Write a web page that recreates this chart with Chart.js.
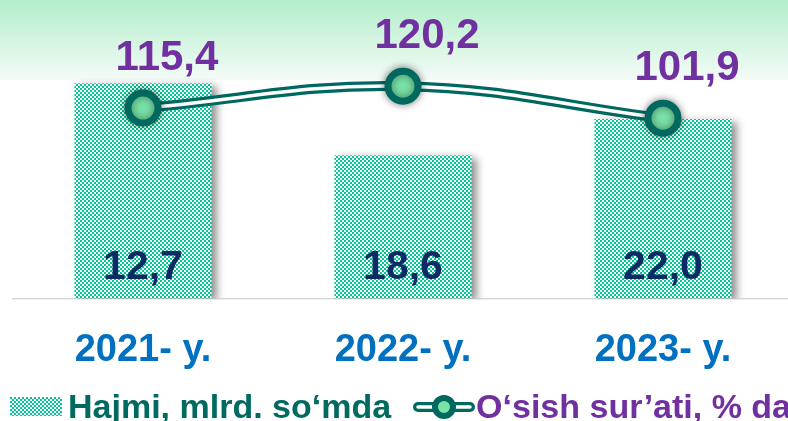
<!DOCTYPE html>
<html>
<head>
<meta charset="utf-8">
<script src="https://cdn.jsdelivr.net/npm/chart.js@4"></script>
<style>
  html, body { margin: 0; padding: 0; background: #fff; }
  body { width: 788px; height: 421px; overflow: hidden; position: relative; }
  #wrap { position: absolute; left: 0; top: 0; width: 793px; height: 421px; }
  #legend {
    position: absolute; left: 10px; top: 387px; white-space: nowrap;
    font: bold 34px "Liberation Sans", Arial, sans-serif; display: flex; align-items: center;
  }
  #legend canvas { display: inline-block; }
  .vol { color: #006a60; margin-left: 6px; }
  .gr { color: #7030a0; margin-left: 1px; }
</style>
</head>
<body>
<div id="wrap"><canvas id="chart" width="793" height="421"></canvas></div>
<div id="legend">
  <canvas id="boxIcon" width="52" height="19"></canvas><span class="vol">Hajmi, mlrd. so‘mda</span>
  <canvas id="lineIcon" width="62" height="30" style="margin-left:22px"></canvas><span class="gr">O‘sish sur’ati, % da</span>
</div>
<script>
const years = ["2021- y.", "2022- y.", "2023- y."];
// printed values
const volume = ["12,7", "18,6", "22,0"];
const growth = ["115,4", "120,2", "101,9"];
// heights as drawn in the picture (0-100 chart units)
const barLevel = [72.1, 48.0, 60.1];
const lineLevel = [63.8, 71.1, 60.4];

const TEAL = "#00695f";
const GREEN = "#00c894";
const FONT = '"Liberation Sans", Arial, sans-serif';

function checker(color) {
  const cv = document.createElement("canvas");
  cv.width = cv.height = 4;
  const c = cv.getContext("2d");
  c.fillStyle = "#fff";
  c.fillRect(0, 0, 4, 4);
  c.fillStyle = color;
  c.fillRect(0, 0, 2, 2);
  c.fillRect(2, 2, 2, 2);
  return cv;
}

const ctx = document.getElementById("chart").getContext("2d");
const pattern = ctx.createPattern(checker(GREEN), "repeat");

const bgBand = {
  id: "bgBand",
  beforeDraw(chart) {
    const c = chart.ctx;
    const g = c.createLinearGradient(0, 0, 0, 80);
    g.addColorStop(0, "#b3eecb");
    g.addColorStop(1, "#f4fbf7");
    c.save();
    c.fillStyle = g;
    c.fillRect(0, 0, chart.width, 80);
    c.restore();
  },
};

const shadows = {
  id: "shadows",
  beforeDatasetDraw(chart, args) {
    const c = chart.ctx;
    c.save();
    if (args.index === 0) {
      c.shadowColor = "rgba(0,0,0,0.45)";
      c.shadowBlur = 8;
      c.shadowOffsetX = 5;
      c.shadowOffsetY = 3;
    } else if (args.index === 3) {
      c.shadowColor = "rgba(0,0,0,0.45)";
      c.shadowBlur = 9;
    }
  },
  afterDatasetDraw(chart) {
    chart.ctx.restore();
  },
};

const valueLabels = {
  id: "valueLabels",
  afterDatasetsDraw(chart) {
    const c = chart.ctx;
    const base = chart.scales.y.getPixelForValue(0);
    c.save();
    c.textAlign = "center";
    c.textBaseline = "alphabetic";
    c.font = "bold 41px " + FONT;
    c.fillStyle = "#0d2a66";
    chart.getDatasetMeta(0).data.forEach((bar, i) => {
      c.fillText(volume[i], bar.x, base - 19);
    });
    c.font = "bold 42px " + FONT;
    c.fillStyle = "#7030a0";
    chart.getDatasetMeta(3).data.forEach((pt, i) => {
      c.fillText(growth[i], pt.x + 24, pt.y - 38);
    });
    c.restore();
  },
};

new Chart(ctx, {
  data: {
    labels: years,
    datasets: [
      {
        type: "bar",
        data: barLevel,
        backgroundColor: pattern,
        borderWidth: 0,
        categoryPercentage: 1,
        barPercentage: 0.527,
        order: 4,
      },
      {
        type: "line",
        data: lineLevel,
        borderColor: TEAL,
        borderWidth: 10,
        pointRadius: 0,
        tension: 0.4,
        order: 3,
      },
      {
        type: "line",
        data: lineLevel,
        borderColor: "#fff",
        borderWidth: 3.5,
        pointRadius: 0,
        tension: 0.4,
        order: 2,
      },
      {
        type: "line",
        data: lineLevel,
        showLine: false,
        pointRadius: 15,
        pointBorderWidth: 7,
        pointBackgroundColor: "#79e3a8",
        pointBorderColor: TEAL,
        order: 1,
      },
    ],
  },
  options: {
    responsive: false,
    animation: false,
    layout: { autoPadding: false, padding: { left: 13, right: 0, top: 0, bottom: 19 } },
    plugins: {
      legend: { display: false },
      tooltip: { enabled: false },
    },
    scales: {
      x: {
        grid: { display: false, drawTicks: false },
        border: { display: true, color: "#d9d9d9", width: 1.5 },
        ticks: {
          color: "#0070c0",
          font: { family: FONT, size: 38, weight: "bold" },
          padding: 29,
        },
      },
      y: {
        display: false,
        min: 0,
        max: 100,
      },
    },
  },
  plugins: [bgBand, shadows, valueLabels],
});

// legend icons
(function () {
  const b = document.getElementById("boxIcon").getContext("2d");
  b.fillStyle = b.createPattern(checker(GREEN), "repeat");
  b.fillRect(0, 0, 52, 19);

  const l = document.getElementById("lineIcon").getContext("2d");
  l.lineCap = "round";
  l.strokeStyle = TEAL;
  l.lineWidth = 10;
  l.beginPath(); l.moveTo(5, 15); l.lineTo(57, 15); l.stroke();
  l.strokeStyle = "#fff";
  l.lineWidth = 3.5;
  l.beginPath(); l.moveTo(5, 15); l.lineTo(57, 15); l.stroke();
  l.beginPath(); l.arc(31, 15, 9, 0, Math.PI * 2);
  l.fillStyle = "#79e3a8"; l.fill();
  l.lineWidth = 6; l.strokeStyle = TEAL; l.stroke();
})();
</script>
</body>
</html>
